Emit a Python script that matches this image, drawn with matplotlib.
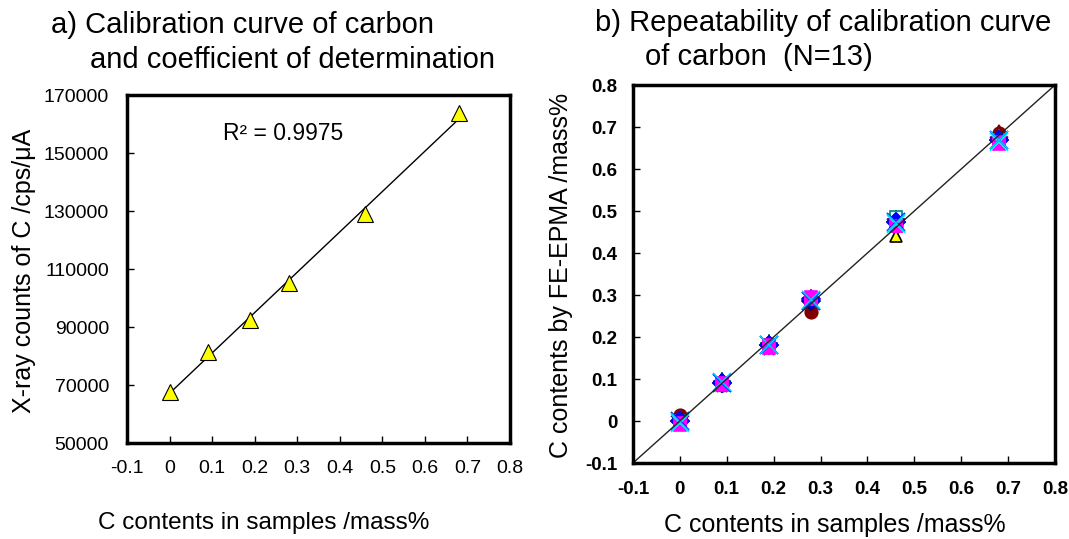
import numpy as np
import matplotlib
matplotlib.use("Agg")
import matplotlib.pyplot as plt

plt.rcParams['font.family'] = ['Liberation Sans', 'DejaVu Sans']

# a) calibration curve data
c_std = [0, 0.09, 0.19, 0.28, 0.46, 0.68]
counts = [67600, 81500, 92400, 105300, 128900, 163700]

# b) repeatability data, 13 repeated measurements
c_ref = [0, 0.09, 0.19, 0.28, 0.46, 0.68]
reps = [
    [0.015, 0.085, 0.180, 0.260, 0.465, 0.685],
    [0.010, 0.095, 0.185, 0.285, 0.470, 0.690],
    [0.005, 0.100, 0.180, 0.290, 0.440, 0.670],
    [0.000, 0.095, 0.185, 0.290, 0.480, 0.675],
    [0.005, 0.085, 0.175, 0.285, 0.475, 0.670],
    [0.000, 0.090, 0.180, 0.290, 0.485, 0.670],
    [0.000, 0.090, 0.180, 0.285, 0.475, 0.670],
    [0.000, 0.090, 0.180, 0.290, 0.475, 0.670],
    [-0.010, 0.090, 0.180, 0.295, 0.465, 0.660],
    [-0.005, 0.085, 0.175, 0.290, 0.465, 0.665],
    [-0.005, 0.090, 0.180, 0.285, 0.470, 0.665],
    [0.000, 0.090, 0.180, 0.285, 0.475, 0.670],
    [-0.003, 0.092, 0.182, 0.288, 0.472, 0.668],
]
# excel-like marker styles (marker, face, edge)
styles = [
    ('o', '#800000', '#800000'),
    ('^', '#800000', '#800000'),
    ('^', '#FFFF00', '#000000'),
    ('+', '#008080', '#008080'),
    ('*', '#800080', '#800080'),
    ('s', '#CCFFFF', '#008080'),
    ('D', '#000080', '#000080'),
    ('D', '#0000FF', '#0000FF'),
    ('s', '#FF00FF', '#FF00FF'),
    ('s', '#FF00FF', '#FF00FF'),
    ('x', '#00FFFF', '#00FFFF'),
    ('x', '#0000FF', '#0000FF'),
    ('x', '#00CCFF', '#00CCFF'),
]
tick_labels = ['-0.1', '0', '0.1', '0.2', '0.3', '0.4', '0.5', '0.6', '0.7', '0.8']

fig = plt.figure(figsize=(10.69, 5.39), dpi=100)

# ---------- a) ----------
ax1 = fig.add_axes([0.1188, 0.1781, 0.3583, 0.6456])
slope, icpt = np.polyfit(c_std, counts, 1)
xfit = np.array([min(c_std), max(c_std)])
ax1.plot(xfit, slope * xfit + icpt, color='black', lw=1)
ax1.plot(c_std, counts, linestyle='none', marker='^', markersize=11,
         markerfacecolor='#FFFF00', markeredgecolor='black', markeredgewidth=0.8)
ax1.text(0.266, 156900, 'R² = 0.9975', fontsize=16.5, ha='center', va='center')
ax1.set_xlim(-0.1, 0.8)
ax1.set_ylim(50000, 170000)
ax1.set_xticks(np.arange(-0.1, 0.81, 0.1))
ax1.set_xticklabels(tick_labels)
ax1.set_yticks(np.arange(50000, 170001, 20000))
ax1.tick_params(direction='in', labelsize=14, length=5, width=1)
ax1.tick_params(axis='x', pad=12)
ax1.tick_params(axis='y', pad=13)
for s in ax1.spines.values():
    s.set_linewidth(2.5)
ax1.set_xlabel('C contents in samples /mass%', fontsize=17.5, va='center')
ax1.xaxis.set_label_coords(0.358, -0.230)
ax1.set_ylabel('X-ray counts of C /cps/μA', fontsize=18, va='center')
ax1.yaxis.set_label_coords(-0.269, 0.494)

# ---------- b) ----------
ax2 = fig.add_axes([0.5921, 0.1410, 0.3948, 0.7013])
ax2.plot([-0.1, 0.8], [-0.1, 0.8], color='#222222', lw=1, zorder=5)
for vals, (m, fc, ec) in zip(reps, styles):
    ms = 13 if m in ('x', '+', '*') else 9
    ax2.plot(c_ref, vals, linestyle='none', marker=m, markersize=ms,
             markerfacecolor=fc, markeredgecolor=ec, markeredgewidth=1.2)
ax2.set_xlim(-0.1, 0.8)
ax2.set_ylim(-0.1, 0.8)
ticks = np.arange(-0.1, 0.81, 0.1)
ax2.set_xticks(ticks)
ax2.set_xticklabels(tick_labels, fontweight='bold')
ax2.set_yticks(ticks)
ax2.set_yticklabels(tick_labels, fontweight='bold')
ax2.tick_params(direction='in', labelsize=13.5, length=5, width=1)
ax2.tick_params(axis='x', pad=13)
ax2.tick_params(axis='y', pad=11)
for s in ax2.spines.values():
    s.set_linewidth(2.5)
    s.set_zorder(6)
ax2.set_xlabel('C contents in samples /mass%', fontsize=18, va='center')
ax2.xaxis.set_label_coords(0.479, -0.164)
ax2.set_ylabel('C contents by FE-EPMA /mass%', fontsize=18, va='center')
ax2.yaxis.set_label_coords(-0.171, 0.497)

# titles
fig.text(51 / 1069, 1 - 25 / 539, 'a) Calibration curve of carbon', fontsize=21, va='center')
fig.text(90 / 1069, 1 - 60 / 539, 'and coefficient of determination', fontsize=21, va='center')
fig.text(595 / 1069, 1 - 23 / 539, 'b) Repeatability of calibration curve', fontsize=21, va='center')
fig.text(645 / 1069, 1 - 57 / 539, 'of carbon  (N=13)', fontsize=21, va='center')

fig.savefig('out.png', dpi=100)
